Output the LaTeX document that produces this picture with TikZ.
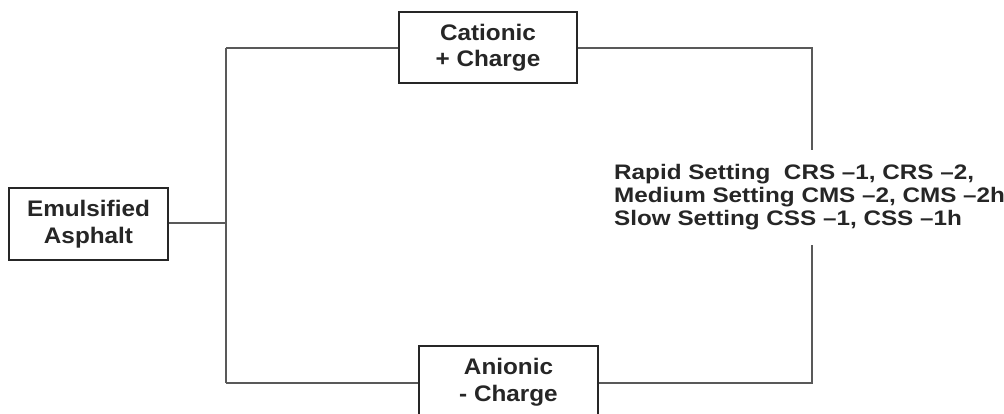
\documentclass[tikz,border=0pt]{standalone}
\usepackage{fontspec}
\setmainfont{Liberation Sans}
\newfontfamily\widesans[FakeStretch=1.155,Ligatures=TeX]{Liberation Sans}
\newfontfamily\boxsans[FakeStretch=1.08,Ligatures=TeX]{Liberation Sans}
\begin{document}
\begin{tikzpicture}[x=1pt,y=-1pt,
  box/.style={draw=black!85, line width=1.6pt, fill=white, inner sep=0pt, align=center, font=\boxsans\fontsize{22.5}{26.5}\selectfont\bfseries, text=black!85},
  wire/.style={draw=black!65, line width=1.3pt},
  lbl/.style={align=left, anchor=north west, inner sep=0pt, font=\widesans\fontsize{21}{23}\selectfont\bfseries, text=black!85}]
\useasboundingbox (0,0) rectangle (1004,414);
\clip (0,0) rectangle (1004,414);
\node[box, minimum width=159pt, minimum height=72pt] (ea) at (88.5,224) {Emulsified\\Asphalt};
\node[box, minimum width=178pt, minimum height=71pt] (cat) at (488,47.5) {Cationic\\+ Charge};
\node[box, minimum width=179pt, minimum height=72pt] (an) at (508.5,382) {Anionic\\- Charge};
\coordinate (j) at (226,223);
\coordinate (jt) at (226,48);
\coordinate (jb) at (226,383);
\coordinate (rt) at (812,48);
\coordinate (rm1) at (812,150);
\coordinate (rm2) at (812,245);
\coordinate (rb) at (812,383);
\node[lbl] (txt) at (614,164.5) {Rapid Setting\ \ CRS --1, CRS --2,\\Medium Setting CMS --2, CMS --2h\\Slow Setting CSS --1, CSS --1h};
\draw[wire] (ea.east |- j) -- (j);
\draw[wire] (jt) -- (jb);
\draw[wire] (jt) -- (cat.west |- jt);
\draw[wire] (jb) -- (an.west |- jb);
\draw[wire] (cat.east |- rt) -- (rt) -- (rm1);
\draw[wire] (an.east |- rb) -- (rb) -- (rm2);
\end{tikzpicture}
\end{document}
